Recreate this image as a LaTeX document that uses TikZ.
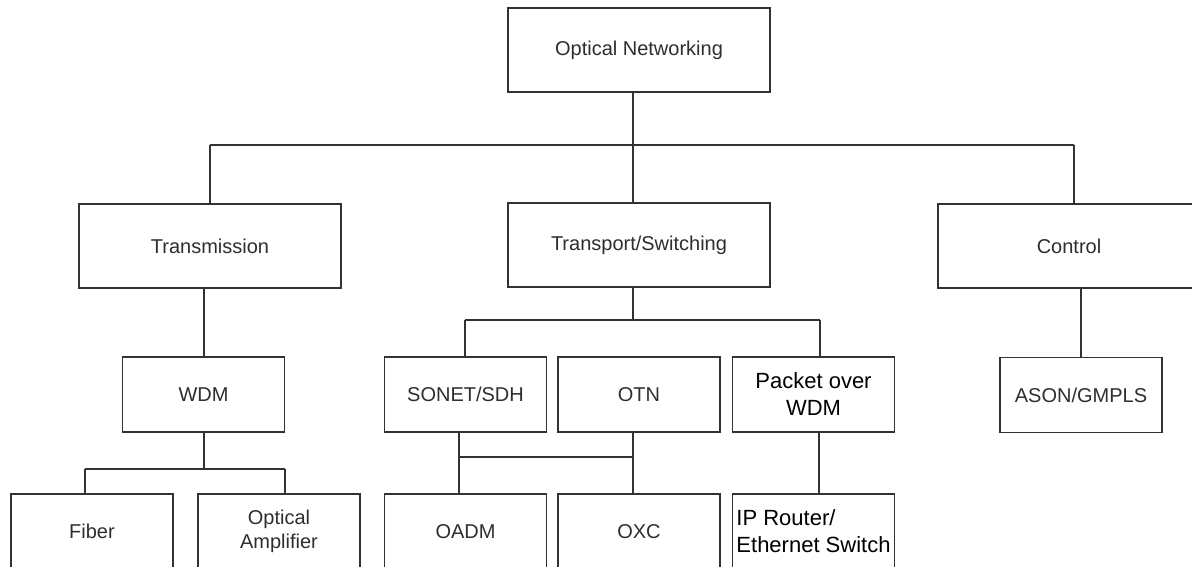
\documentclass[tikz,border=0pt]{standalone}
\usepackage{fontspec}
\setmainfont{Liberation Sans}
\definecolor{linec}{HTML}{333333}
\definecolor{textc}{HTML}{2E2E2E}
\begin{document}
\begin{tikzpicture}[x=1pt,y=-1pt,line width=1.3pt,
  box/.style={draw=linec, fill=white, inner sep=0pt, align=center,
    font=\fontsize{20}{24}\selectfont, text=textc,
    minimum width=262pt, minimum height=84pt},
  small/.style={box, minimum width=162pt, minimum height=75pt},
  big/.style={text=black, font=\fontsize{22}{27}\selectfont},
  conn/.style={draw=linec, line width=1.3pt}]
\useasboundingbox (0,0) rectangle (1192,566);
\clip (0,0) rectangle (1192,566);
\fill[white] (0,0) rectangle (1192,566);
% nodes
\node[box] (on) at (639,50) {Optical Networking};
\node[box] (tr) at (210,246) {Transmission};
\node[box] (ts) at (639,245) {Transport/Switching};
\node[box] (ct) at (1069,246) {Control};
\node[small] (wdm) at (203.5,394.5) {WDM};
\node[small] (son) at (465.5,394.5) {SONET/SDH};
\node[small] (otn) at (639,394.5) {OTN};
\node[small, big] (pkt) at (813.5,394.5) {Packet over\\WDM};
\node[small] (ason) at (1081,395) {ASON/GMPLS};
\node[small] (fib) at (92,531.5) {Fiber};
\node[small] (oa) at (279,531.5) {Optical\\Amplifier};
\node[small] (oadm) at (465.5,531.5) {OADM};
\node[small] (oxc) at (639,531.5) {OXC};
\node[small, big, align=left] (ip) at (813.5,531.5) {IP Router/\\Ethernet Switch};
% top level bus
\coordinate (bus0) at (633,145);
\coordinate (busL) at (210,145);
\coordinate (busR) at (1074,145);
\draw[conn] (on.south -| bus0) -- (bus0);
\draw[conn] (busL) -- (busR);
\draw[conn] (busL) -- (tr.north -| busL);
\draw[conn] (bus0) -- (ts.north -| bus0);
\draw[conn] (busR) -- (ct.north -| busR);
% transmission branch
\coordinate (wb) at (204,469);
\coordinate (wbL) at (85,469);
\coordinate (wbR) at (285,469);
\draw[conn] (tr.south -| wb) -- (wdm.north -| wb);
\draw[conn] (wdm.south -| wb) -- (wb);
\draw[conn] (wbL) -- (wbR);
\draw[conn] (wbL) -- (fib.north -| wbL);
\draw[conn] (wbR) -- (oa.north -| wbR);
% transport branch
\coordinate (sb) at (633,320);
\coordinate (sbL) at (465,320);
\coordinate (sbR) at (820,320);
\draw[conn] (ts.south -| sb) -- (sb);
\draw[conn] (sbL) -- (sbR);
\draw[conn] (sbL) -- (son.north -| sbL);
\draw[conn] (sbR) -- (pkt.north -| sbR);
\coordinate (lbL) at (459,457);
\coordinate (lbR) at (633,457);
\draw[conn] (son.south -| lbL) -- (lbL) -- (lbR);
\draw[conn] (otn.south -| lbR) -- (lbR);
\draw[conn] (lbL) -- (oadm.north -| lbL);
\draw[conn] (lbR) -- (oxc.north -| lbR);
\coordinate (pc) at (819,460);
\draw[conn] (pkt.south -| pc) -- (ip.north -| pc);
% control branch
\coordinate (cc) at (1081,320);
\draw[conn] (ct.south -| cc) -- (ason.north -| cc);
\end{tikzpicture}
\end{document}
